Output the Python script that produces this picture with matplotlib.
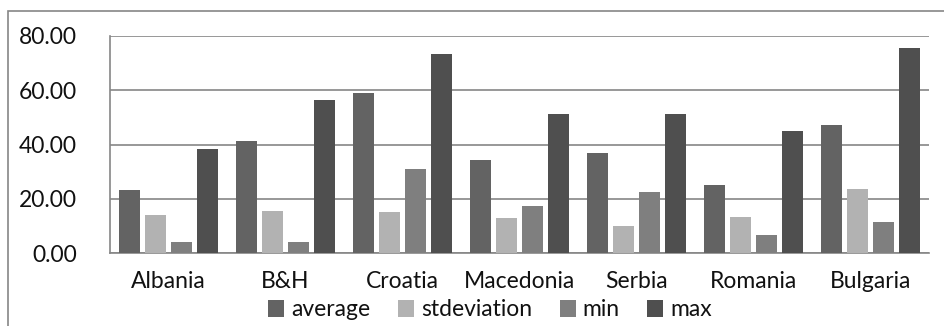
import matplotlib.pyplot as plt
import numpy as np
from matplotlib.patches import Rectangle

countries = ["Albania", "B&H", "Croatia", "Macedonia", "Serbia", "Romania", "Bulgaria"]
average = [23.2, 41.3, 59.0, 34.4, 36.9, 25.0, 47.2]
stdeviation = [14.0, 15.5, 15.0, 12.9, 10.0, 13.2, 23.5]
min_vals = [4.2, 3.9, 31.0, 17.4, 22.4, 6.5, 11.5]
max_vals = [38.2, 56.4, 73.3, 51.1, 51.4, 45.0, 75.7]

series = [("average", average, "#636363"),
          ("stdeviation", stdeviation, "#b2b2b2"),
          ("min", min_vals, "#7f7f7f"),
          ("max", max_vals, "#4f4f4f")]

plt.rcParams['font.family'] = ['Lato', 'DejaVu Sans']

fig = plt.figure(figsize=(9.44, 3.26), dpi=100)
ax = fig.add_axes([110/944, 1-253/326, (929-110)/944, (253-36)/326])

x = np.arange(len(countries))
w = 0.18
step = 0.222
for i, (name, vals, col) in enumerate(series):
    ax.bar(x + (i - 1.5)*step, vals, w, color=col, label=name, zorder=3)

ax.set_xlim(-0.5, len(countries)-0.5)
ax.set_ylim(0, 80)
ax.set_yticks(np.arange(0, 81, 20))
ax.set_yticklabels(["%.2f" % v for v in np.arange(0, 81, 20)], fontsize=16.5)
ax.set_xticks(x)
ax.set_xticklabels(countries, fontsize=16.5)
ax.tick_params(length=0, labelcolor="#111111")
ax.tick_params(axis='y', pad=24)
ax.tick_params(axis='x', pad=13)
ax.yaxis.grid(True, color="#868686", linewidth=1.2, zorder=0)
for s in ["top", "right"]:
    ax.spines[s].set_visible(False)
ax.spines["left"].set_color("#868686")
ax.spines["bottom"].set_color("#868686")
ax.spines["left"].set_linewidth(1.2)
ax.spines["bottom"].set_linewidth(1.2)

fig.legend(loc="center", bbox_to_anchor=(490/944, 1-310/326), ncol=4, frameon=False,
           fontsize=16.5, handlelength=0.7, handleheight=0.7, handletextpad=0.3,
           columnspacing=1.2, borderpad=0, labelcolor="#111111")

fig.patches.append(Rectangle((8/944, -0.1), 1.0, 1-11/326+0.1, transform=fig.transFigure,
                             fill=False, edgecolor="#868686", linewidth=1.2))

fig.savefig("out.png", dpi=100)
